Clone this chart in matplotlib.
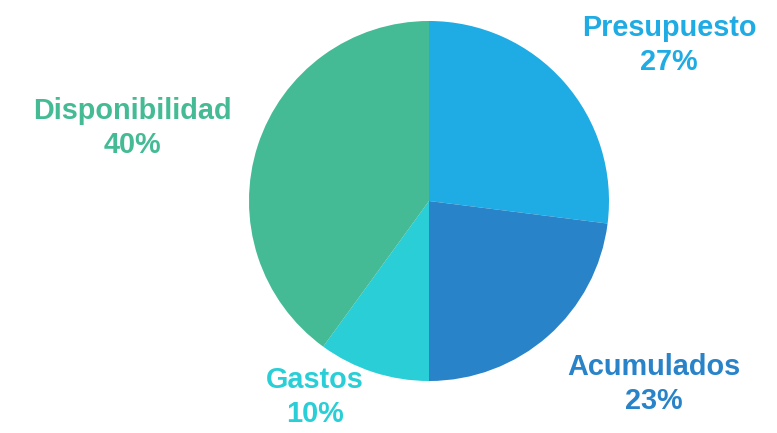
import matplotlib.pyplot as plt

categorias = ['Presupuesto', 'Acumulados', 'Gastos', 'Disponibilidad']
valores = [27, 23, 10, 40]
colores = ['#1FABE3', '#2883C8', '#29CED6', '#44BA95']

# posiciones de las etiquetas (pixeles, origen arriba a la izquierda)
pos_etiquetas = [(669, 45), (654, 384), (315, 397), (132, 128)]

fig = plt.figure(figsize=(7.77, 4.33), dpi=100)
ax = fig.add_axes([0, 0, 1, 1])
ax.set_xlim(0, 777)
ax.set_ylim(0, 433)
ax.set_aspect('equal')
ax.axis('off')

ax.pie(valores, colors=colores, startangle=90, counterclock=False,
       center=(429, 433 - 201), radius=180,
       wedgeprops=dict(linewidth=0))
ax.set_xlim(0, 777)
ax.set_ylim(0, 433)

for cat, val, col, (x, y) in zip(categorias, valores, colores, pos_etiquetas):
    ax.text(x, 433 - y, f'{cat}\n{val}%', ha='center', va='center',
            color=col, fontsize=20.8, fontweight='bold',
            family='Liberation Sans', linespacing=1.3)

fig.savefig('out.png', dpi=100, facecolor='white')
